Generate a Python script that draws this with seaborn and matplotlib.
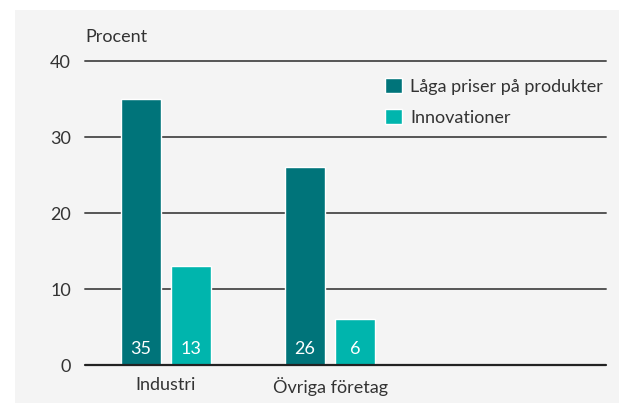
import pandas as pd
import seaborn as sns
import matplotlib.pyplot as plt
from matplotlib.patches import Rectangle


# Data
categories = ['Industri', 'Övriga företag']
series = ['Låga priser på produkter', 'Innovationer']
low_prices = [35, 26]
innovations = [13, 6]
colors = ['#00747a', '#00b5ad']

df = pd.DataFrame({
    'kategori': categories * 2,
    'serie': [series[0]] * 2 + [series[1]] * 2,
    'procent': low_prices + innovations,
})

sns.set_style('white')
plt.rcParams['font.family'] = ['Lato', 'DejaVu Sans']
fs = 13

fig = plt.figure(figsize=(6.19, 4.03), dpi=100)
fig.patch.set_facecolor('white')

# Gray panel behind the chart
fig.patches.append(Rectangle((15 / 619, 0), 1, 1 - 10 / 403, transform=fig.transFigure,
                             facecolor='#f4f4f4', edgecolor='none', zorder=-10))

ax = fig.add_axes([85 / 619, 1 - 365 / 403, (606 - 85) / 619, (365 - 61) / 403])
ax.set_facecolor('none')

sns.barplot(data=df, x='kategori', y='procent', hue='serie', palette=colors,
            width=0.608, gap=0.2, saturation=1, ax=ax, zorder=3)

# Value labels inside the bars
for patch in ax.patches:
    h = patch.get_height()
    if h > 0:
        ax.text(patch.get_x() + patch.get_width() / 2, 2.1, f'{h:.0f}', ha='center', va='center',
                color='white', fontsize=fs, zorder=4)

ax.set_xlim(-0.49, 2.677)
ax.set_ylim(0, 40)
ax.set_yticks([0, 10, 20, 30, 40])
ax.set_xlabel('')
ax.set_ylabel('')

for y in [10, 20, 30, 40]:
    ax.axhline(y, color='#555555', lw=1.4, zorder=1, clip_on=False)
ax.axhline(0, color='#222222', lw=1.6, zorder=5, clip_on=False)

sns.despine(ax=ax, left=True, bottom=True, top=True, right=True)
ax.tick_params(axis='both', length=0, labelsize=fs, colors='#333333')
ax.tick_params(axis='y', pad=10)
ax.tick_params(axis='x', pad=9)

ax.text(0, (365 - 37) / 304, 'Procent', transform=ax.transAxes, ha='left', va='center',
        fontsize=fs, color='#333333')

leg = ax.legend(loc='upper left', bbox_to_anchor=(0.576, 0.945), frameon=False,
                fontsize=fs, handlelength=0.95, handleheight=0.95, handletextpad=0.45,
                labelspacing=0.78, borderpad=0, borderaxespad=0)
for t in leg.get_texts():
    t.set_color('#333333')

fig.savefig('out.png', dpi=100)
